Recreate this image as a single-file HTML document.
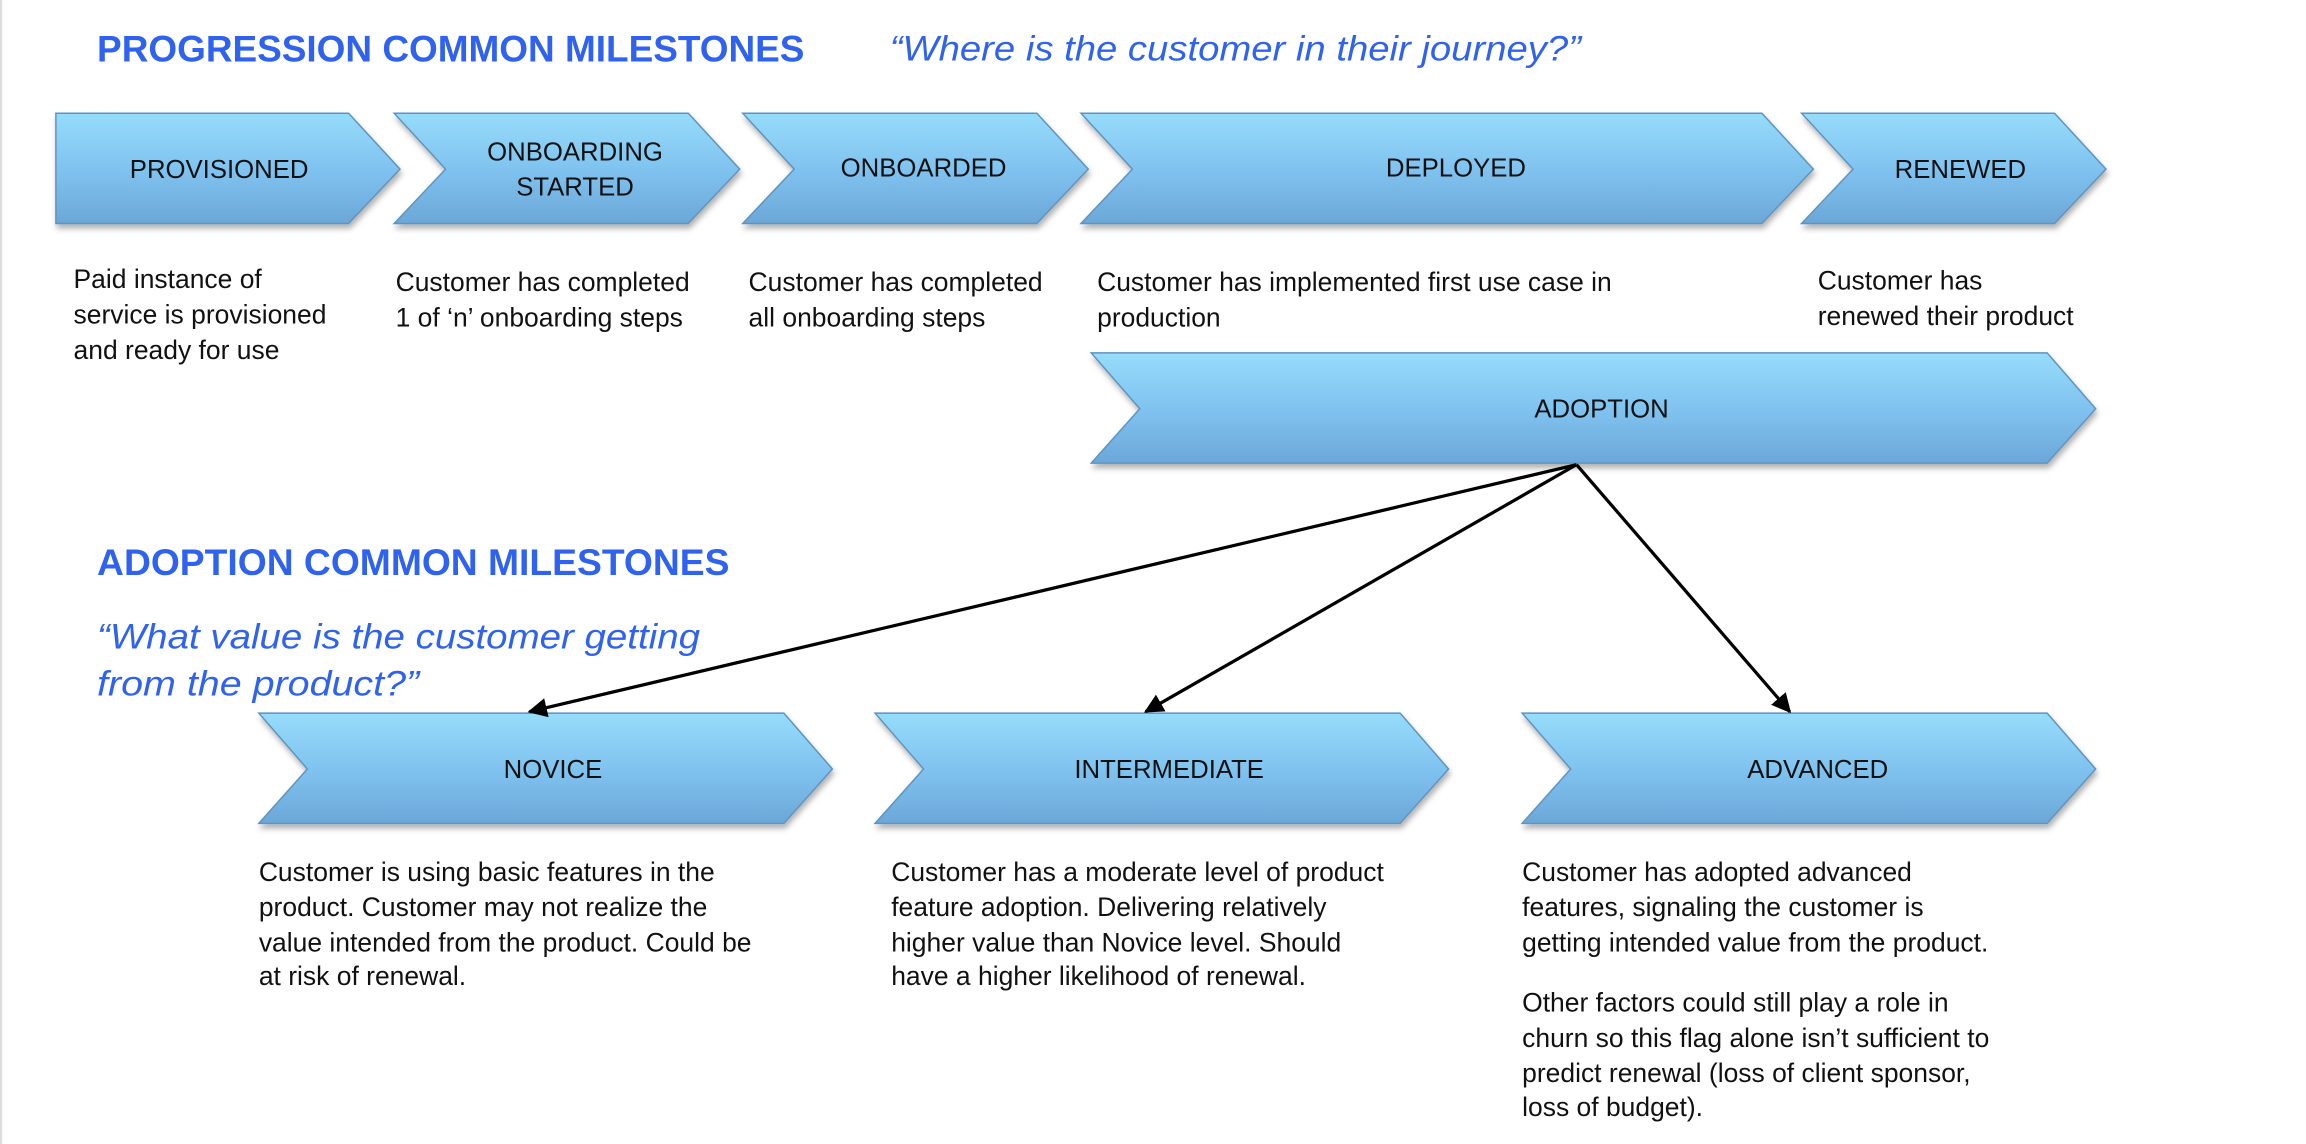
<!DOCTYPE html>
<html><head><meta charset="utf-8"><style>
html,body{margin:0;padding:0;background:#fff;}
svg{display:block}
text{font-family:"Liberation Sans",sans-serif;}
</style></head><body>
<svg width="2306" height="1144" viewBox="0 0 1568 778" preserveAspectRatio="none" xmlns="http://www.w3.org/2000/svg">
<defs>
<linearGradient id="g" x1="0" y1="0" x2="0" y2="1">
<stop offset="0" stop-color="#96dcfa"/>
<stop offset="0.5" stop-color="#80c3f0"/>
<stop offset="1" stop-color="#6ba7d8"/>
</linearGradient>
<filter id="sh" x="-5%" y="-10%" width="110%" height="130%">
<feDropShadow dx="1" dy="3" stdDeviation="2" flood-color="#000" flood-opacity="0.3"/>
</filter>
<marker id="ar" viewBox="0 0 10 10" refX="9" refY="5" markerWidth="6" markerHeight="6" orient="auto">
<path d="M0,0 L10,5 L0,10 Z" fill="#000"/>
</marker>
</defs>
<rect x="0" y="0" width="1.5" height="778" fill="#ddd"/>
<g fill="url(#g)" stroke="#5e93c0" stroke-width="1" filter="url(#sh)">
<path d="M38,77 H237 L272,115 L237,152 H38 Z"/>
<path d="M268,77 H468 L503,115 L468,152 H268 L303,115 Z"/>
<path d="M505,77 H705 L740,115 L705,152 H505 L540,115 Z"/>
<path d="M735,77 H1198 L1233,115 L1198,152 H735 L770,115 Z"/>
<path d="M1225,77 H1397 L1432,115 L1397,152 H1225 L1260,115 Z"/>
<path d="M742,240 H1392 L1425,278 L1392,315 H742 L775,278 Z"/>
<path d="M176,485 H533 L566,523 L533,560 H176 L209,523 Z"/>
<path d="M595,485 H952 L985,523 L952,560 H595 L628,523 Z"/>
<path d="M1035,485 H1392 L1425,523 L1392,560 H1035 L1068,523 Z"/>
</g>
<g font-size="17.5" fill="#111" text-anchor="middle">
<text x="149" y="121">PROVISIONED</text>
<text x="391" y="109">ONBOARDING</text>
<text x="391" y="133">STARTED</text>
<text x="628" y="120">ONBOARDED</text>
<text x="990" y="120">DEPLOYED</text>
<text x="1333" y="121">RENEWED</text>
<text x="1089" y="284">ADOPTION</text>
<text x="376" y="529">NOVICE</text>
<text x="795" y="529">INTERMEDIATE</text>
<text x="1236" y="529">ADVANCED</text>
</g>
<g font-weight="bold" font-size="25" fill="#2f62ee">
<text x="66" y="42" textLength="481" lengthAdjust="spacingAndGlyphs">PROGRESSION COMMON MILESTONES</text>
<text x="66" y="391" textLength="430" lengthAdjust="spacingAndGlyphs">ADOPTION COMMON MILESTONES</text>
</g>
<g font-style="italic" font-size="24" fill="#2f62ee">
<text x="605" y="41" textLength="470" lengthAdjust="spacingAndGlyphs">“Where is the customer in their journey?”</text>
<text x="66" y="441" textLength="410" lengthAdjust="spacingAndGlyphs">“What value is the customer getting</text>
<text x="66" y="473" textLength="219" lengthAdjust="spacingAndGlyphs">from the product?”</text>
</g>
<g stroke="#000" stroke-width="2.2" fill="none" marker-end="url(#ar)">
<line x1="1072" y1="316" x2="360" y2="484"/>
<line x1="1072" y1="316" x2="779" y2="484"/>
<line x1="1072" y1="316" x2="1217" y2="484"/>
</g>
<g font-size="18" fill="#111">
<text x="50" y="196">Paid instance of</text>
<text x="50" y="220">service is provisioned</text>
<text x="50" y="244">and ready for use</text>
<text x="269" y="198">Customer has completed</text>
<text x="269" y="222">1 of ‘n’ onboarding steps</text>
<text x="509" y="198">Customer has completed</text>
<text x="509" y="222">all onboarding steps</text>
<text x="746" y="198">Customer has implemented first use case in</text>
<text x="746" y="222">production</text>
<text x="1236" y="197">Customer has</text>
<text x="1236" y="221">renewed their product</text>
<text x="176" y="599">Customer is using basic features in the</text>
<text x="176" y="623">product.  Customer may not realize the</text>
<text x="176" y="647">value intended from the product. Could be</text>
<text x="176" y="670">at risk of renewal.</text>
<text x="606" y="599">Customer has a moderate level of product</text>
<text x="606" y="623">feature adoption.  Delivering relatively</text>
<text x="606" y="647">higher value than Novice level.  Should</text>
<text x="606" y="670">have a higher likelihood of renewal.</text>
<text x="1035" y="599">Customer has adopted advanced</text>
<text x="1035" y="623">features, signaling the customer is</text>
<text x="1035" y="647">getting intended value from the product.</text>
<text x="1035" y="688">Other factors could still play a role in</text>
<text x="1035" y="712">churn so this flag alone isn’t sufficient to</text>
<text x="1035" y="736">predict renewal (loss of client sponsor,</text>
<text x="1035" y="759">loss of budget).</text>
</g>
</svg>
</body></html>
